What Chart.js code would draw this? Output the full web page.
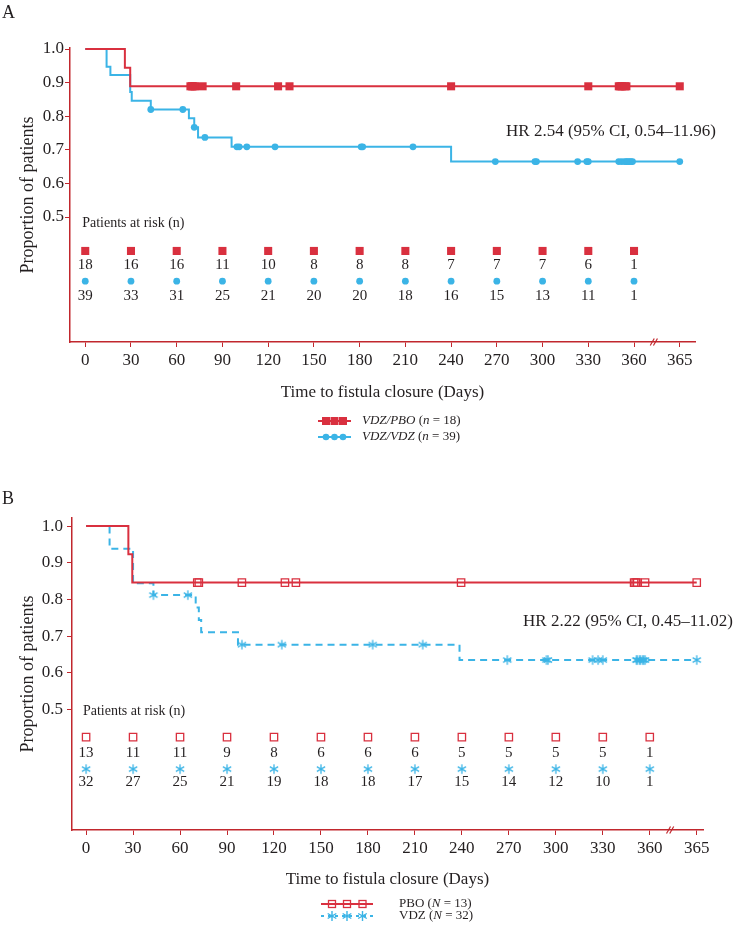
<!DOCTYPE html>
<html>
<head>
<meta charset="utf-8">
<script src="https://cdn.jsdelivr.net/npm/chart.js@4.4.1/dist/chart.umd.min.js"></script>
<style>
  body { margin: 0; background: #fff; }
  .panel { position: relative; width: 735px; }
  #panelA { height: 460px; }
  #panelB { height: 468px; }
</style>
</head>
<body>
<div class="panel" id="panelA"><canvas id="chartA"></canvas></div>
<div class="panel" id="panelB"><canvas id="chartB"></canvas></div>
<script>
const RED = '#d9303f';
const BLUE = '#3bb4e6';
const AXIS = '#c1272d';
const INK = '#231f20';
const SERIF = '"Liberation Serif", "Times New Roman", serif';

// shared axis values
const riskDays = [0, 30, 60, 90, 120, 150, 180, 210, 240, 270, 300, 330, 360];
const xTickDays = [0, 30, 60, 90, 120, 150, 180, 210, 240, 270, 300, 330, 360, 365];
const yTicks = [0.5, 0.6, 0.7, 0.8, 0.9, 1.0];

// panel A: VDZ/PBO vs VDZ/VDZ
const aPboDays = [0, 26, 29.5, 365];
const aPboSurv = [1, 0.944, 0.889, 0.889];
const aPboCensor = [69, 70, 71, 72, 77, 99, 126.5, 134, 240, 330, 350, 351, 352, 354, 355, 365];
const aVdzDays = [0, 14, 16.5, 29.5, 30.5, 43, 68, 71.5, 74, 96, 240, 365];
const aVdzSurv = [1, 0.947, 0.923, 0.872, 0.846, 0.820, 0.794, 0.767, 0.737, 0.709, 0.665, 0.665];
const aVdzCensor = [43, 64, 71.5, 78.5, 99.5, 101, 106, 124.5, 181, 182, 215, 269, 295, 296, 323, 329,
  330, 350, 352, 354, 355, 356, 357, 358, 359, 365];
const aPboRisk = [18, 16, 16, 11, 10, 8, 8, 8, 7, 7, 7, 6, 1];
const aVdzRisk = [39, 33, 31, 25, 21, 20, 20, 18, 16, 15, 13, 11, 1];

// panel B: PBO vs VDZ
const bPboDays = [0, 27, 29.5, 365];
const bPboSurv = [1, 0.923, 0.846, 0.846];
const bPboCensor = [71, 72, 99.5, 127, 134, 239.5, 350, 351, 352, 357, 365];
const bVdzDays = [0, 15, 30, 43, 70, 72, 73.5, 97, 238.5, 365];
const bVdzSurv = [1, 0.938, 0.844, 0.812, 0.778, 0.744, 0.711, 0.677, 0.635, 0.635];
const bVdzCensor = [43, 65, 99.5, 125, 183, 215, 269, 294, 295, 323.5, 327, 330, 351.5, 352, 353.5,
  354, 355.5, 356, 357, 365];
const bPboRisk = [13, 11, 11, 9, 8, 6, 6, 6, 5, 5, 5, 5, 1];
const bVdzRisk = [32, 27, 25, 21, 19, 18, 18, 17, 15, 14, 12, 10, 1];

// the axis is broken between 360 and 365, so the last 5 days are stretched
function axisDay(d) {
  return d <= 360 ? d : 360 + (d - 360) * 6;
}

function survAt(days, surv, t) {
  let s = surv[0];
  for (let i = 0; i < days.length; i++) {
    if (days[i] <= t) s = surv[i];
  }
  return s;
}

function curve(days, surv) {
  return days.map((d, i) => ({ x: axisDay(d), y: surv[i] }));
}

function censorMarks(censor, days, surv) {
  return censor.map(d => ({ x: axisDay(d), y: survAt(days, surv, d) }));
}

function riskRow(level) {
  return riskDays.map(d => ({ x: d, y: level }));
}

function strokeAsterisk(ctx, x, y, r) {
  ctx.beginPath();
  [90, 30, 150].forEach(deg => {
    const a = deg * Math.PI / 180;
    ctx.moveTo(x - Math.cos(a) * r, y - Math.sin(a) * r);
    ctx.lineTo(x + Math.cos(a) * r, y + Math.sin(a) * r);
  });
  ctx.stroke();
}

// six-armed asterisk used as a point style
const asterisk = document.createElement('canvas');
asterisk.width = 12;
asterisk.height = 12;
(function() {
  const c = asterisk.getContext('2d');
  c.strokeStyle = BLUE;
  c.lineWidth = 1.3;
  strokeAsterisk(c, 6, 6, 4.8);
})();

function drawMarker(ctx, style, x, y, color) {
  ctx.save();
  ctx.fillStyle = color;
  ctx.strokeStyle = color;
  if (style === 'rect') {
    ctx.fillRect(x - 4, y - 4, 8, 8);
  } else if (style === 'rectOpen') {
    ctx.lineWidth = 1.3;
    ctx.strokeRect(x - 3.5, y - 3.5, 7, 7);
  } else if (style === 'circle') {
    ctx.beginPath();
    ctx.arc(x, y, 3.3, 0, Math.PI * 2);
    ctx.fill();
  } else {
    ctx.lineWidth = 1.4;
    strokeAsterisk(ctx, x, y, 5);
  }
  ctx.restore();
}

function overlay(cfg) {
  return {
    id: 'kmOverlay',
    afterDraw(chart) {
      const { ctx, scales: { x, y } } = chart;
      ctx.save();
      ctx.fillStyle = INK;
      ctx.textBaseline = 'middle';

      ctx.textAlign = 'left';
      ctx.font = '18px ' + SERIF;
      ctx.fillText(cfg.letter, 2, cfg.letterY);

      ctx.font = '14px ' + SERIF;
      ctx.fillText('Patients at risk (n)', x.getPixelForValue(-2), y.getPixelForValue(cfg.levels.label));

      ctx.textAlign = 'center';
      ctx.font = '15px ' + SERIF;
      riskDays.forEach((d, i) => {
        const px = x.getPixelForValue(d);
        ctx.fillText(String(cfg.pboRisk[i]), px, y.getPixelForValue(cfg.levels.pboNum));
        ctx.fillText(String(cfg.vdzRisk[i]), px, y.getPixelForValue(cfg.levels.vdzNum));
      });

      ctx.textAlign = 'right';
      ctx.font = '17px ' + SERIF;
      ctx.fillText(cfg.hr, cfg.hrX, cfg.hrY);

      // axis break marks
      const bx = x.getPixelForValue(373);
      const by = chart.chartArea.bottom;
      ctx.strokeStyle = AXIS;
      ctx.lineWidth = 1.2;
      [-1.6, 1.6].forEach(o => {
        ctx.beginPath();
        ctx.moveTo(bx + o - 2, by + 3.5);
        ctx.lineTo(bx + o + 2, by - 3.5);
        ctx.stroke();
      });

      // legend
      cfg.legend.forEach(item => {
        ctx.save();
        ctx.strokeStyle = item.color;
        ctx.lineWidth = 2;
        ctx.setLineDash(item.dash || []);
        ctx.beginPath();
        ctx.moveTo(cfg.legendX0, item.y);
        ctx.lineTo(cfg.legendX1, item.y);
        ctx.stroke();
        ctx.restore();
        cfg.legendMarks.forEach(mx => drawMarker(ctx, item.marker, mx, item.y, item.color));
        let tx = cfg.legendTextX;
        ctx.textAlign = 'left';
        ctx.fillStyle = INK;
        item.parts.forEach(p => {
          ctx.font = (p.italic ? 'italic ' : '') + '13px ' + SERIF;
          ctx.fillText(p.t, tx, item.y);
          tx += ctx.measureText(p.t).width;
        });
      });
      ctx.restore();
    }
  };
}

function makeChart(id, p) {
  const tickVals = xTickDays.map(axisDay);
  return new Chart(document.getElementById(id), {
    type: 'scatter',
    data: {
      datasets: [
        { data: censorMarks(p.pboCensor, p.pboDays, p.pboSurv), pointStyle: 'rect', pointRadius: p.pboRadius,
          backgroundColor: p.pboFill, borderColor: RED, borderWidth: p.pboBorder },
        { data: curve(p.pboDays, p.pboSurv), showLine: true, stepped: true, pointRadius: 0,
          borderColor: RED, borderWidth: 2 },
        { data: censorMarks(p.vdzCensor, p.vdzDays, p.vdzSurv), pointStyle: p.vdzStyle, pointRadius: p.vdzRadius,
          backgroundColor: BLUE, borderColor: BLUE, borderWidth: p.vdzBorder },
        { data: curve(p.vdzDays, p.vdzSurv), showLine: true, stepped: true, pointRadius: 0,
          borderColor: BLUE, borderWidth: 2, borderDash: p.vdzDash },
        { data: riskRow(p.levels.pboMark), pointStyle: 'rect', pointRadius: p.pboRadius,
          backgroundColor: p.pboFill, borderColor: RED, borderWidth: p.pboBorder },
        { data: riskRow(p.levels.vdzMark), pointStyle: p.vdzStyle, pointRadius: p.vdzRadius,
          backgroundColor: BLUE, borderColor: BLUE, borderWidth: p.vdzBorder }
      ]
    },
    options: {
      responsive: true,
      maintainAspectRatio: false,
      animation: false,
      events: [],
      layout: { padding: p.padding },
      plugins: { legend: { display: false }, tooltip: { enabled: false } },
      scales: {
        x: {
          type: 'linear',
          min: p.xMin,
          max: p.xMax,
          afterBuildTicks: s => { s.ticks = tickVals.map(v => ({ value: v })); },
          afterFit: s => { s.height = p.xHeight; },
          grid: { drawOnChartArea: false, color: AXIS, tickLength: 5 },
          border: { color: AXIS, width: 1.5 },
          ticks: {
            autoSkip: false, maxRotation: 0, padding: 3, color: INK,
            font: { family: SERIF, size: 17 },
            callback: (v, i) => String(xTickDays[i])
          },
          title: {
            display: true, text: 'Time to fistula closure (Days)', color: INK,
            font: { family: SERIF, size: 17 }, padding: { top: 0, bottom: 1 }
          }
        },
        y: {
          min: p.yMin,
          max: p.yMax,
          afterBuildTicks: s => { s.ticks = yTicks.map(v => ({ value: v })); },
          afterFit: s => { s.width = p.yWidth; },
          grid: { drawOnChartArea: false, color: AXIS, tickLength: 5 },
          border: { color: AXIS, width: 1.5 },
          ticks: {
            padding: p.yPad, color: INK, font: { family: SERIF, size: 17 },
            callback: v => v.toFixed(1)
          },
          title: {
            display: true, text: 'Proportion of patients', color: INK,
            font: { family: SERIF, size: 18 }, padding: { top: 17, bottom: 0 }
          }
        }
      }
    },
    plugins: [overlay(p)]
  });
}

makeChart('chartA', {
  letter: 'A', letterY: 13,
  pboDays: aPboDays, pboSurv: aPboSurv, pboCensor: aPboCensor,
  vdzDays: aVdzDays, vdzSurv: aVdzSurv, vdzCensor: aVdzCensor,
  pboRisk: aPboRisk, vdzRisk: aVdzRisk,
  pboFill: RED, pboBorder: 0, pboRadius: 5.7,
  vdzStyle: 'circle', vdzRadius: 3.4, vdzBorder: 0, vdzDash: [],
  levels: { label: 0.482, pboMark: 0.399, pboNum: 0.357, vdzMark: 0.309, vdzNum: 0.265 },
  hr: 'HR 2.54 (95% CI, 0.54\u201311.96)', hrX: 716, hrY: 132,
  xMin: -10, xMax: 400, yMin: 0.128, yMax: 1.003,
  xHeight: 62, yWidth: 70, yPad: 1,
  padding: { top: 48, right: 40, bottom: 56, left: 0 },
  legendX0: 318, legendX1: 351, legendTextX: 362, legendMarks: [326, 334.5, 343],
  legend: [
    { y: 421, color: RED, marker: 'rect',
      parts: [{ t: 'VDZ/PBO', italic: true }, { t: ' (' }, { t: 'n', italic: true }, { t: ' = 18)' }] },
    { y: 437, color: BLUE, marker: 'circle',
      parts: [{ t: 'VDZ/VDZ', italic: true }, { t: ' (' }, { t: 'n', italic: true }, { t: ' = 39)' }] }
  ]
});

makeChart('chartB', {
  letter: 'B', letterY: 39,
  pboDays: bPboDays, pboSurv: bPboSurv, pboCensor: bPboCensor,
  vdzDays: bVdzDays, vdzSurv: bVdzSurv, vdzCensor: bVdzCensor,
  pboRisk: bPboRisk, vdzRisk: bVdzRisk,
  pboFill: 'rgba(0,0,0,0)', pboBorder: 1.3, pboRadius: 5.2,
  vdzStyle: asterisk, vdzRadius: 5, vdzBorder: 0, vdzDash: [7, 5],
  levels: { label: 0.496, pboMark: 0.425, pboNum: 0.381, vdzMark: 0.338, vdzNum: 0.302 },
  hr: 'HR 2.22 (95% CI, 0.45\u201311.02)', hrX: 733, hrY: 162,
  xMin: -9, xMax: 394, yMin: 0.172, yMax: 1.022,
  xHeight: 61, yWidth: 72, yPad: 4,
  padding: { top: 58, right: 32, bottom: 37, left: 0 },
  legendX0: 321, legendX1: 373, legendTextX: 399, legendMarks: [332, 347, 362.5],
  legend: [
    { y: 444, color: RED, marker: 'rectOpen',
      parts: [{ t: 'PBO (' }, { t: 'N', italic: true }, { t: ' = 13)' }] },
    { y: 456, color: BLUE, marker: 'star', dash: [3, 4],
      parts: [{ t: 'VDZ (' }, { t: 'N', italic: true }, { t: ' = 32)' }] }
  ]
});
</script>
</body>
</html>
